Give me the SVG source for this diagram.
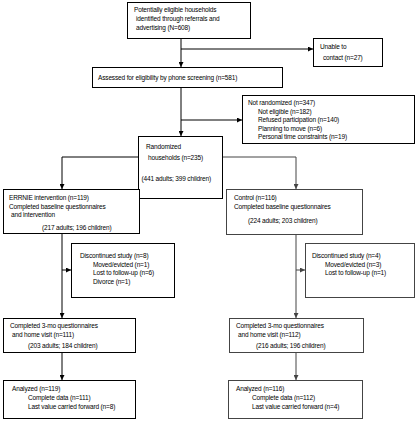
<svg xmlns="http://www.w3.org/2000/svg" width="415" height="421" viewBox="0 0 415 421">
<defs>
<marker id="ah" viewBox="0 0 6 6" refX="6" refY="3" markerWidth="5" markerHeight="5" markerUnits="userSpaceOnUse" orient="auto"><path d="M0,0L6,3L0,6z" fill="#000"/></marker>
<marker id="ahg" viewBox="0 0 6 6" refX="6" refY="3" markerWidth="5" markerHeight="5" markerUnits="userSpaceOnUse" orient="auto"><path d="M0,0L6,3L0,6z" fill="#444"/></marker>
<style>
rect{fill:#fff;stroke:#000;stroke-width:1}
.g rect{stroke:#444}
text{font-family:"Liberation Sans",Arial,sans-serif;font-size:6.5px;letter-spacing:-0.15px;fill:#000}
.c path{fill:none;stroke:#000;stroke-width:1}
.c path.g{stroke:#444}
</style>
</defs>
<rect x="0" y="0" width="415" height="421" style="fill:#fff;stroke:none"/>
<g class="c" id="connectors">
<path d="M181,38V67" marker-end="url(#ah)"/>
<path d="M181,49H313" marker-end="url(#ah)"/>
<path d="M181,87V136" marker-end="url(#ah)"/>
<path d="M181,120H242" marker-end="url(#ah)"/>
<path d="M138,157H62V189" marker-end="url(#ah)"/>
<path class="g" d="M222,157H296V189" marker-end="url(#ahg)"/>
<path d="M62,233V318" marker-end="url(#ah)"/>
<path d="M62,270H71" marker-end="url(#ah)"/>
<path class="g" d="M296,234V318" marker-end="url(#ahg)"/>
<path class="g" d="M296,270H305" marker-end="url(#ahg)"/>
<path d="M62,352V380" marker-end="url(#ah)"/>
<path class="g" d="M296,352V380" marker-end="url(#ahg)"/>
</g>
<g id="n1"><rect x="127.5" y="2.5" width="123" height="36"/>
<text x="134" y="12">Potentially eligible households</text>
<text x="136" y="21">identified through referrals and</text>
<text x="136" y="30">advertising (N=608)</text></g>
<g id="n2"><rect x="313.5" y="38.5" width="69" height="28"/>
<text x="320" y="49">Unable to</text>
<text x="323" y="60">contact (n=27)</text></g>
<g id="n3"><rect x="92.5" y="67.5" width="190" height="20"/>
<text x="98" y="80">Assessed for eligibility by phone screening (n=581)</text></g>
<g id="n4"><rect x="242.5" y="95.5" width="172" height="48"/>
<text x="248" y="105">Not randomized (n=347)</text>
<text x="258" y="113.5">Not eligible (n=182)</text>
<text x="258" y="122">Refused participation (n=140)</text>
<text x="258" y="130.5">Planning to move (n=6)</text>
<text x="258" y="139">Personal time constraints (n=19)</text></g>
<g id="n5"><rect x="138.5" y="136.5" width="84" height="62"/>
<text x="146" y="149">Randomized</text>
<text x="148" y="160">households (n=235)</text>
<text x="141.5" y="181">(441 adults; 399 children)</text></g>
<g id="n6"><rect x="3.5" y="189.5" width="136" height="44"/>
<text x="9" y="200">ERRNIE intervention (n=119)</text>
<text x="9" y="209">Completed baseline questionnaires</text>
<text x="11" y="217">and intervention</text>
<text x="42" y="230">(217 adults; 196 children)</text></g>
<g id="n7" class="g"><rect x="226.5" y="189.5" width="136" height="45"/>
<text x="234" y="200">Control (n=116)</text>
<text x="234" y="209">Completed baseline questionnaires</text>
<text x="248" y="223">(224 adults; 203 children)</text></g>
<g id="n8"><rect x="71.5" y="243.5" width="103" height="54"/>
<text x="80" y="258">Discontinued study (n=8)</text>
<text x="93" y="266.5">Moved/evicted (n=1)</text>
<text x="93" y="275">Lost to follow-up (n=6)</text>
<text x="93" y="283.5">Divorce (n=1)</text></g>
<g id="n9" class="g"><rect x="305.5" y="243.5" width="109" height="54"/>
<text x="312" y="258">Discontinued study (n=4)</text>
<text x="325" y="266.5">Moved/evicted (n=3)</text>
<text x="325" y="275">Lost to follow-up (n=1)</text></g>
<g id="n10"><rect x="3.5" y="318.5" width="132" height="34"/>
<text x="10" y="328">Completed 3-mo questionnaires</text>
<text x="12" y="336.5">and home visit (n=111)</text>
<text x="28" y="348">(203 adults; 184 children)</text></g>
<g id="n11" class="g"><rect x="229.5" y="318.5" width="134" height="34"/>
<text x="236" y="328">Completed 3-mo questionnaires</text>
<text x="238" y="336.5">and home visit (n=112)</text>
<text x="256" y="348">(216 adults; 196 children)</text></g>
<g id="n12"><rect x="3.5" y="380.5" width="132" height="38"/>
<text x="12" y="391">Analyzed (n=119)</text>
<text x="28" y="400">Complete data (n=111)</text>
<text x="28" y="409">Last value carried forward (n=8)</text></g>
<g id="n13" class="g"><rect x="228.5" y="380.5" width="134" height="38"/>
<text x="236" y="391">Analyzed (n=116)</text>
<text x="252" y="400">Complete data (n=112)</text>
<text x="252" y="409">Last value carried forward (n=4)</text></g>
</svg>
